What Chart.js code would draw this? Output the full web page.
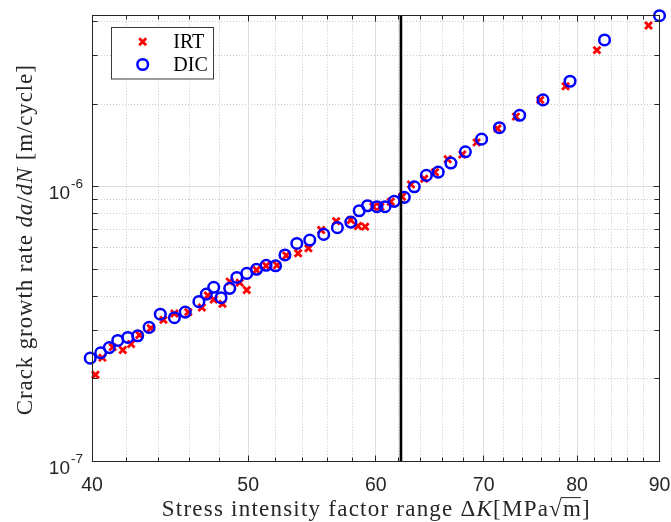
<!DOCTYPE html>
<html>
<head>
<meta charset="utf-8">
<script src="https://cdn.jsdelivr.net/npm/chart.js@4"></script>
<style>
  html, body { margin: 0; padding: 0; background: #fff; }
  #wrap { width: 671px; height: 522px; }
</style>
</head>
<body>
<div id="wrap"><canvas id="crackChart" width="671" height="522"></canvas></div>
<script>
// data (Delta K in MPa*sqrt(m), rate in m/cycle)
const irtDeltaK = [40.2, 40.6, 41.2, 41.8, 42.3, 42.8, 43.5, 44.3, 45.0, 45.9, 46.8, 47.2, 47.6, 48.2, 48.7,
  49.4, 49.9, 50.6, 51.3, 52.1, 52.8, 53.7, 54.5, 55.5, 56.7, 57.9, 58.5, 59.1, 59.8, 60.4,
  61.3, 62.3, 63.1, 64.3, 65.3, 66.5, 67.9, 69.3, 71.4, 73.3, 75.9, 78.7, 82.3, 88.6];
const irtRate = [2.07e-7, 2.39e-7, 2.61e-7, 2.55e-7, 2.68e-7, 2.89e-7, 3.06e-7, 3.28e-7, 3.46e-7, 3.50e-7,
  3.64e-7, 4.02e-7, 3.89e-7, 3.75e-7, 4.52e-7, 4.48e-7, 4.21e-7, 4.98e-7, 5.16e-7, 5.18e-7,
  5.62e-7, 5.73e-7, 5.97e-7, 6.96e-7, 7.50e-7, 7.57e-7, 7.20e-7, 7.16e-7, 8.46e-7, 8.46e-7,
  8.82e-7, 9.20e-7, 1.02e-6, 1.07e-6, 1.13e-6, 1.26e-6, 1.31e-6, 1.45e-6, 1.63e-6, 1.80e-6,
  2.07e-6, 2.32e-6, 3.14e-6, 3.86e-6];
const dicDeltaK = [39.9, 40.5, 41.0, 41.5, 42.1, 42.7, 43.4, 44.1, 45.0, 45.7, 46.6, 47.1, 47.6, 48.1, 48.7,
  49.2, 49.9, 50.6, 51.3, 52.0, 52.7, 53.6, 54.6, 55.7, 56.8, 57.9, 58.6, 59.3, 60.1, 60.8,
  61.6, 62.5, 63.4, 64.5, 65.6, 66.8, 68.2, 69.8, 71.6, 73.7, 76.2, 79.2, 83.2, 90.0];
const dicRate = [2.38e-7, 2.49e-7, 2.60e-7, 2.76e-7, 2.83e-7, 2.87e-7, 3.08e-7, 3.44e-7, 3.34e-7, 3.50e-7,
  3.82e-7, 4.07e-7, 4.31e-7, 3.95e-7, 4.27e-7, 4.68e-7, 4.84e-7, 5.01e-7, 5.18e-7, 5.16e-7,
  5.65e-7, 6.22e-7, 6.40e-7, 6.71e-7, 7.10e-7, 7.44e-7, 8.18e-7, 8.53e-7, 8.46e-7, 8.46e-7,
  8.85e-7, 9.15e-7, 1.00e-6, 1.10e-6, 1.13e-6, 1.22e-6, 1.34e-6, 1.49e-6, 1.64e-6, 1.82e-6,
  2.07e-6, 2.42e-6, 3.42e-6, 4.19e-6];

const seriesNames = ['IRT', 'DIC'];
const thresholdDeltaK = 62.2;

const xTicks = [40, 50, 60, 70, 80, 90];
const xMinorTicks = [42, 44, 46, 48, 52, 54, 56, 58, 62, 64, 66, 68, 72, 74, 76, 78, 82, 84, 86, 88];
const yTicks = [1e-7, 1e-6];
const yTickLabels = [['10', '-7'], ['10', '-6']];
const yMinorTicks = [2e-7, 3e-7, 4e-7, 5e-7, 6e-7, 7e-7, 8e-7, 9e-7, 2e-6, 3e-6, 4e-6];

const xTitleParts = [
  { t: 'Stress intensity factor range ' }, { t: '\u0394' }, { t: 'K', it: true },
  { t: '[MPa' }, { t: '\u221A' }, { t: 'm', over: true }, { t: ']' }
];
const yTitleParts = [
  { t: 'Crack growth rate ' }, { t: 'da', it: true }, { t: '/' }, { t: 'dN', it: true }, { t: ' [m/cycle]' }
];

const AXIS = '#262626';
const SANS = '"Liberation Sans", Arial, sans-serif';
const SERIF = '"Liberation Serif", "Times New Roman", serif';

const crisp = v => Math.round(v - 0.5) + 0.5;

// draws text made of upright / italic pieces, lightly letter-spaced out to a given width
function drawParts(ctx, parts, size, targetW, cx, baseline) {
  const font = p => (p.it ? 'italic ' : '') + size + 'px ' + SERIF;
  let total = 0, count = 0;
  parts.forEach(p => { ctx.font = font(p); total += ctx.measureText(p.t).width; count += p.t.length; });
  const gap = Math.max(0, (targetW - total) / (count - 1));
  let x = cx - targetW / 2;
  ctx.textAlign = 'left';
  ctx.textBaseline = 'alphabetic';
  parts.forEach(p => {
    ctx.font = font(p);
    for (const ch of p.t) {
      const w = ctx.measureText(ch).width;
      ctx.fillText(ch, x, baseline);
      if (p.over) {
        ctx.lineWidth = 1;
        ctx.beginPath();
        ctx.moveTo(x - gap - 1, baseline - size * 0.8);
        ctx.lineTo(x + w, baseline - size * 0.8);
        ctx.stroke();
      }
      x += w + gap;
    }
  });
}

const matlabAxes = {
  id: 'matlabAxes',
  beforeDatasetsDraw(chart) {
    const { ctx, chartArea: a, scales: { x, y } } = chart;
    ctx.save();
    // minor grid, dotted
    ctx.strokeStyle = '#c8c8c8';
    ctx.lineWidth = 1;
    ctx.setLineDash([1, 2]);
    ctx.beginPath();
    xMinorTicks.forEach(v => { const px = crisp(x.getPixelForValue(v)); ctx.moveTo(px, a.top); ctx.lineTo(px, a.bottom); });
    yMinorTicks.forEach(v => { const py = crisp(y.getPixelForValue(v)); ctx.moveTo(a.left, py); ctx.lineTo(a.right, py); });
    ctx.stroke();
    // major grid, solid
    ctx.setLineDash([]);
    ctx.strokeStyle = '#dedede';
    ctx.beginPath();
    xTicks.forEach(v => { const px = crisp(x.getPixelForValue(v)); ctx.moveTo(px, a.top); ctx.lineTo(px, a.bottom); });
    yTicks.forEach(v => { const py = crisp(y.getPixelForValue(v)); ctx.moveTo(a.left, py); ctx.lineTo(a.right, py); });
    ctx.stroke();
    ctx.restore();
  },
  afterDatasetsDraw(chart) {
    const { ctx, chartArea: a, scales: { x, y } } = chart;
    ctx.save();

    // threshold line
    const tx = x.getPixelForValue(thresholdDeltaK);
    ctx.strokeStyle = '#000';
    ctx.lineWidth = 2.6;
    ctx.beginPath();
    ctx.moveTo(tx, a.top);
    ctx.lineTo(tx, a.bottom);
    ctx.stroke();

    // box + inward ticks on all sides
    ctx.strokeStyle = AXIS;
    ctx.lineWidth = 1;
    const L = crisp(a.left), R = crisp(a.right), T = crisp(a.top), B = crisp(a.bottom);
    ctx.strokeRect(L, T, R - L, B - T);
    ctx.beginPath();
    const xTick = (v, len) => {
      const px = crisp(x.getPixelForValue(v));
      ctx.moveTo(px, B); ctx.lineTo(px, B - len);
      ctx.moveTo(px, T); ctx.lineTo(px, T + len);
    };
    const yTick = (v, len) => {
      const py = crisp(y.getPixelForValue(v));
      ctx.moveTo(L, py); ctx.lineTo(L + len, py);
      ctx.moveTo(R, py); ctx.lineTo(R - len, py);
    };
    xTicks.forEach(v => xTick(v, 6));
    xMinorTicks.forEach(v => xTick(v, 4));
    yTicks.forEach(v => yTick(v, 6));
    yMinorTicks.forEach(v => yTick(v, 5));
    ctx.stroke();

    // tick labels
    ctx.fillStyle = AXIS;
    ctx.font = '19.5px ' + SANS;
    ctx.textAlign = 'center';
    ctx.textBaseline = 'alphabetic';
    xTicks.forEach(v => ctx.fillText(String(v), x.getPixelForValue(v), a.bottom + 29));
    yTicks.forEach((v, i) => {
      const py = y.getPixelForValue(v);
      const [base, sup] = yTickLabels[i];
      ctx.textAlign = 'right';
      ctx.font = '13.5px ' + SANS;
      const supW = ctx.measureText(sup).width;
      ctx.fillText(sup, a.left - 9, py + 1.5);
      ctx.font = '19px ' + SANS;
      ctx.fillText(base, a.left - 10 - supW, py + 12.5);
    });

    // axis titles
    ctx.strokeStyle = AXIS;
    drawParts(ctx, xTitleParts, 23, 428, (a.left + a.right) / 2, 516);
    ctx.save();
    ctx.translate(32, (a.top + a.bottom) / 2 + 1.5);
    ctx.rotate(-Math.PI / 2);
    drawParts(ctx, yTitleParts, 23, 350, 0, 0);
    ctx.restore();

    // legend
    const lx = 111.5, ly = 27.5, lw = 102, lh = 51.5;
    ctx.fillStyle = '#fff';
    ctx.fillRect(lx, ly, lw, lh);
    ctx.strokeStyle = '#3a3a3a';
    ctx.lineWidth = 1;
    ctx.strokeRect(lx, ly, lw, lh);
    const mx = 142.7;
    const d = 4.9 * Math.SQRT1_2;
    ctx.strokeStyle = '#ff0000';
    ctx.lineWidth = 2.8;
    ctx.beginPath();
    ctx.moveTo(mx - d, 41.7 - d); ctx.lineTo(mx + d, 41.7 + d);
    ctx.moveTo(mx - d, 41.7 + d); ctx.lineTo(mx + d, 41.7 - d);
    ctx.stroke();
    ctx.strokeStyle = '#0000ff';
    ctx.lineWidth = 2.5;
    ctx.beginPath();
    ctx.arc(mx, 64.5, 5.3, 0, Math.PI * 2);
    ctx.stroke();
    ctx.fillStyle = '#000';
    ctx.font = '20px ' + SERIF;
    ctx.textAlign = 'left';
    ctx.fillText(seriesNames[0], 173.3, 47.5);
    ctx.fillText(seriesNames[1], 173.3, 70.7);

    ctx.restore();
  }
};

const ctx = document.getElementById('crackChart').getContext('2d');
const crackChart = new Chart(ctx, {
  type: 'scatter',
  data: {
    datasets: [
      {
        label: seriesNames[0],
        data: irtDeltaK.map((k, i) => ({ x: k, y: irtRate[i] })),
        pointStyle: 'crossRot',
        pointRadius: 4.9,
        pointBorderWidth: 2.8,
        pointBorderColor: '#ff0000',
        pointBackgroundColor: '#ff0000',
        order: 2,
        clip: false
      },
      {
        label: seriesNames[1],
        data: dicDeltaK.map((k, i) => ({ x: k, y: dicRate[i] })),
        pointStyle: 'circle',
        pointRadius: 5.3,
        pointBorderWidth: 2.5,
        pointBorderColor: '#0000ff',
        pointBackgroundColor: 'rgba(0,0,0,0)',
        order: 1,
        clip: false
      }
    ]
  },
  options: {
    responsive: false,
    animation: false,
    events: [],
    layout: { padding: { left: 92, right: 11.5, top: 15.7, bottom: 60.3 } },
    plugins: { legend: { display: false }, tooltip: { enabled: false } },
    scales: {
      x: { type: 'logarithmic', display: false, min: 40, max: 90 },
      y: { type: 'logarithmic', display: false, min: 1e-7, max: 4.19e-6 }
    }
  },
  plugins: [matlabAxes]
});
</script>
</body>
</html>
